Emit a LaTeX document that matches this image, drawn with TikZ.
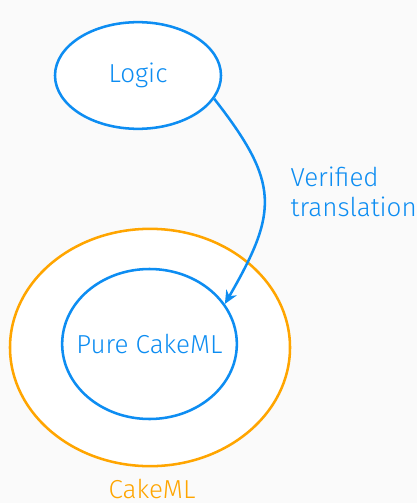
\documentclass[tikz,border=0pt]{standalone}
\usepackage{fontspec}
\setmainfont{Fira Sans}[UprightFont=* Light]
\usepackage{xcolor}
\usepackage{tikz}
\usetikzlibrary{shapes.geometric,arrows.meta}
\definecolor{figbg}{HTML}{FAFAFA}
\definecolor{figblue}{HTML}{0D8DF2}
\definecolor{figorange}{HTML}{FFA500}
\newcommand{\bigtext}{\fontsize{19.5}{23}\selectfont}
\tikzset{
  blob/.style={ellipse,draw=figblue,fill=white,line width=1.9pt,inner sep=0pt,
    text=figblue,font=\bigtext},
}

\begin{document}
\begin{tikzpicture}[x=0.75pt,y=-0.75pt]
    \fill[figbg] (0,0) rectangle (417,503);
    \useasboundingbox (0,0) rectangle (417,503);
    % outer language and its pure fragment
    \node[blob,draw=figorange,minimum width=210pt,minimum height=178pt] (cakeml) at (150,347.5) {};
    \node[blob,minimum width=131pt,minimum height=112.5pt] (pure) at (149.5,344) {\makebox[0pt]{Pure CakeML}};
    \node[blob,minimum width=124.5pt,minimum height=80pt] (logic) at (138,75.5) {\makebox[0pt]{\raisebox{2pt}{Logic}}};
    \node[text=figorange,font=\bigtext,inner sep=0pt,anchor=base] (cakemllbl) at (152,498) {CakeML};
    % translation arrow
    \draw[figblue,line width=1.9pt,-{Stealth[length=10pt,width=9pt]}]
      (logic.-17) to[out=-52,in=60,looseness=1.33] (pure.28);
    \node[text=figblue,font=\bigtext,align=left,anchor=west] (verlbl) at (286,192) {Verified\\translation};
\end{tikzpicture}
\end{document}
